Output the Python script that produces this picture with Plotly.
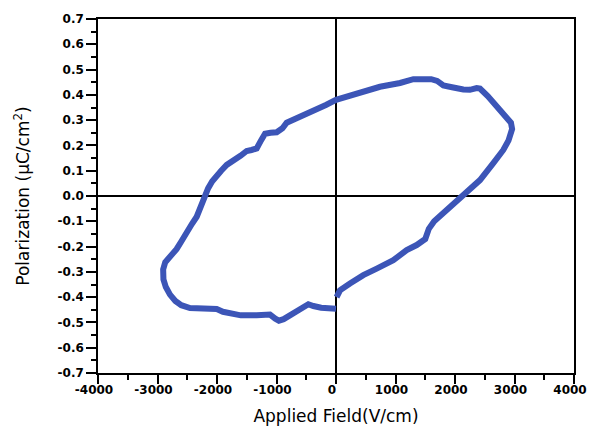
import plotly.graph_objects as go

# P-E hysteresis loop traced as one path (field in V/cm, polarization in uC/cm^2),
# starting at the foot of the rising branch and ending on the lower branch at E = 0
field = [10, 67, 235, 459, 684, 963, 1188, 1356, 1500, 1560, 1650, 1860, 2084, 2252,
         2420, 2644, 2812, 2900, 2960, 2940, 2800, 2700, 2550, 2420, 2364, 2250,
         2140, 1950, 1804, 1700, 1600, 1300, 1076, 739, 459, 235, 0,
         -170, -324, -480, -605, -720, -829, -900, -997, -1100, -1193, -1260, -1333,
         -1420, -1501, -1600, -1700, -1837, -1930, -2005, -2080, -2150, -2202,
         -2250, -2341, -2420, -2509, -2600, -2680, -2790, -2870, -2905, -2900,
         -2860, -2790, -2700, -2600, -2454, -2200, -2005, -1900, -1750, -1600,
         -1333, -1109, -1020, -960, -880, -780, -661, -560, -465, -380, -250, 0]
polarization = [-0.400, -0.373, -0.346, -0.313, -0.287, -0.254, -0.214, -0.194, -0.170,
                -0.130, -0.100, -0.056, -0.009, 0.024, 0.063, 0.130, 0.182, 0.220,
                0.265, 0.290, 0.330, 0.355, 0.395, 0.425, 0.427, 0.420, 0.421, 0.430,
                0.437, 0.455, 0.462, 0.462, 0.447, 0.432, 0.413, 0.396, 0.380,
                0.360, 0.343, 0.328, 0.315, 0.303, 0.290, 0.268, 0.252, 0.250, 0.246,
                0.220, 0.188, 0.182, 0.178, 0.160, 0.145, 0.123, 0.100, 0.083, 0.058,
                0.030, 0.000, -0.035, -0.082, -0.110, -0.140, -0.180, -0.210, -0.240,
                -0.262, -0.290, -0.330, -0.360, -0.390, -0.415, -0.432, -0.443, -0.445,
                -0.447, -0.458, -0.468, -0.472, -0.472, -0.469, -0.485, -0.493, -0.487,
                -0.472, -0.460, -0.440, -0.428, -0.435, -0.442, -0.446]

x_ticks = [-4000, -3000, -2000, -1000, 0, 1000, 2000, 3000, 4000]
y_ticks = [0.7, 0.6, 0.5, 0.4, 0.3, 0.2, 0.1, 0.0, -0.1, -0.2, -0.3, -0.4, -0.5, -0.6, -0.7]

tick_font = dict(family="DejaVu Sans", size=12, color="black", weight="bold")
title_font = dict(family="DejaVu Sans", size=17, color="black")

fig = go.Figure()
fig.add_trace(go.Scatter(
    x=field, y=polarization, mode="lines",
    line=dict(color="#3C55B7", width=6),
    hoverinfo="skip", showlegend=False,
))

fig.update_xaxes(
    range=[-4000, 4000], tickvals=x_ticks, ticktext=[str(v) for v in x_ticks],
    ticks="outside", ticklen=9, tickwidth=1.5, tickcolor="black",
    minor=dict(dtick=500, ticks="outside", ticklen=5, tickwidth=1.5, tickcolor="black"),
    showline=True, linecolor="black", linewidth=1.5, mirror=True,
    showgrid=False, zeroline=True, zerolinecolor="black", zerolinewidth=1.5,
    tickfont=tick_font, ticklabelshift=-4, ticklabelstandoff=-4,
    automargin=False,
    title=dict(text="Applied Field(V/cm)", font=title_font, standoff=14),
)
fig.update_yaxes(
    range=[-0.7, 0.7], tickvals=y_ticks, ticktext=[f"{v:.1f}" for v in y_ticks],
    ticks="outside", ticklen=10, tickwidth=1.5, tickcolor="black",
    minor=dict(dtick=0.05, ticks="outside", ticklen=5, tickwidth=1.5, tickcolor="black"),
    showline=True, linecolor="black", linewidth=1.5, mirror=True,
    showgrid=False, zeroline=True, zerolinecolor="black", zerolinewidth=1.5,
    tickfont=tick_font, automargin=False,
    title=dict(text="Polarization (μC/cm<sup>2</sup>)", font=title_font, standoff=24),
)

fig.update_layout(
    width=590, height=432,
    margin=dict(l=98, r=16, t=19, b=59),
    paper_bgcolor="white", plot_bgcolor="white",
)

fig.write_html("out.html")
